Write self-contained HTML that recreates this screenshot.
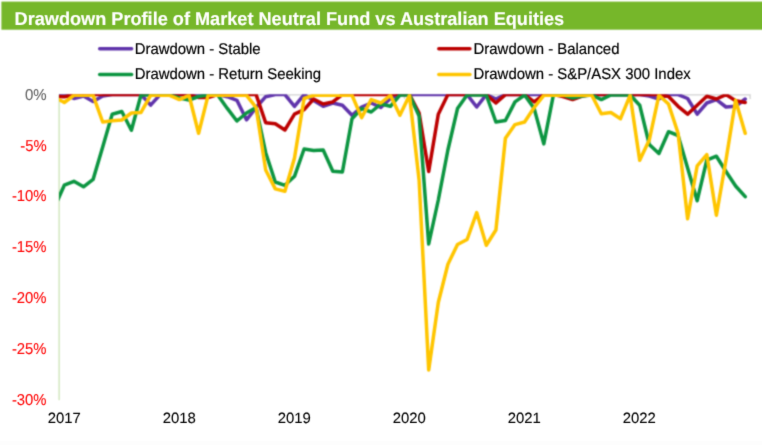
<!DOCTYPE html>
<html lang="en">
<head>
<meta charset="utf-8">
<title>Drawdown Profile of Market Neutral Fund vs Australian Equities</title>
<style>
html,body{margin:0;padding:0;background:#fff;}
body{width:762px;height:445px;overflow:hidden;position:relative;font-family:"Liberation Sans",Arial,sans-serif;}
svg{position:absolute;left:0;top:0;display:block;}
svg text{text-rendering:geometricPrecision;font-family:"Liberation Sans",Arial,sans-serif;stroke-width:0.2;paint-order:stroke;stroke-linejoin:round;}
.ln{fill:none;stroke-width:3.5;stroke-linejoin:round;stroke-linecap:round;}
</style>
</head>
<body>
<svg width="762" height="445" viewBox="0 0 762 445">
<defs>
<filter id="b" filterUnits="userSpaceOnUse" x="0" y="0" width="762" height="445" color-interpolation-filters="sRGB"><feConvolveMatrix order="3" kernelMatrix="1 3 1 3 9 3 1 3 1" divisor="25" edgeMode="duplicate" preserveAlpha="false"/></filter>
<filter id="bt" filterUnits="userSpaceOnUse" x="0" y="0" width="762" height="445" color-interpolation-filters="sRGB"><feConvolveMatrix order="3" kernelMatrix="1 8 1 8 64 8 1 8 1" divisor="100" edgeMode="duplicate" preserveAlpha="false"/></filter>
<clipPath id="cp"><rect x="59" y="94.2" width="700" height="320"/></clipPath>
</defs>
<rect x="0" y="0" width="762" height="445" fill="#ffffff"/>
<rect x="0" y="441" width="762" height="4" fill="#fdfdfd"/>
<g filter="url(#b)">
<rect x="1.4" y="1.6" width="762" height="28.1" fill="#76b72a"/>
<path d="M59 94.8H750.1M750.1 94.3V99M174.2 94.3V99M289.3 94.3V99M404.5 94.3V99M519.7 94.3V99M634.9 94.3V99" fill="none" stroke="#d2d2d2" stroke-width="1.3"/>
<line x1="59.1" y1="94.7" x2="59.1" y2="400.2" stroke="#bcdb9f" stroke-width="1"/>
<line x1="99.7" y1="48.85" x2="131.6" y2="48.85" stroke="#6034ab" stroke-width="3.5" stroke-linecap="round"/>
<line x1="99.7" y1="74.45" x2="131.6" y2="74.45" stroke="#0c9541" stroke-width="3.5" stroke-linecap="round"/>
<line x1="438.8" y1="48.85" x2="469.9" y2="48.85" stroke="#bc0000" stroke-width="3.5" stroke-linecap="round"/>
<line x1="438.8" y1="74.45" x2="469.9" y2="74.45" stroke="#ffc500" stroke-width="3.5" stroke-linecap="round"/>
<g clip-path="url(#cp)">
<polyline class="ln" stroke="#6034ab" points="56.0,94.6 64.3,94.6 73.9,98.5 83.5,96.0 93.1,101.5 102.7,96.0 112.2,94.6 121.8,94.6 131.4,94.6 141.0,94.6 150.6,105.2 160.2,94.6 169.8,94.6 179.4,94.6 189.0,94.6 198.6,94.6 208.1,94.6 217.7,94.6 227.3,96.7 236.9,100.3 246.5,119.8 256.1,107.5 265.7,96.7 275.3,94.6 284.9,94.6 294.5,106.3 304.1,94.6 313.6,100.5 323.2,106.3 332.8,103.0 342.4,105.2 352.0,115.3 361.6,107.0 371.2,103.0 380.8,107.5 390.4,98.5 399.9,94.6 409.5,94.6 419.1,94.6 428.7,94.6 438.3,94.6 447.9,94.6 457.5,94.6 467.1,94.6 476.7,107.0 486.3,94.6 495.9,99.0 505.4,94.6 515.0,94.6 524.6,94.6 534.2,94.6 543.8,94.6 553.4,94.6 563.0,94.6 572.6,94.6 582.2,94.6 591.8,94.6 601.3,94.6 610.9,94.6 620.5,94.6 630.1,94.6 639.7,94.6 649.3,96.0 658.9,99.0 668.5,94.6 678.1,94.6 687.6,98.5 697.2,114.2 706.8,103.0 716.4,99.6 726.0,107.0 735.6,106.3 745.2,99.0"/>
<polyline class="ln" stroke="#bc0000" points="56.0,96.5 64.3,96.8 73.9,94.6 83.5,94.6 93.1,94.6 102.7,94.6 112.2,94.6 121.8,94.6 131.4,94.6 141.0,94.6 150.6,94.6 160.2,94.6 169.8,94.6 179.4,94.6 189.0,94.6 198.6,97.5 208.1,97.5 217.7,94.6 227.3,94.6 236.9,94.6 246.5,94.6 256.1,94.6 265.7,122.8 275.3,123.7 284.9,130.0 294.5,114.2 304.1,109.7 313.6,99.0 323.2,104.0 332.8,101.9 342.4,94.6 352.0,94.6 361.6,94.6 371.2,94.6 380.8,94.6 390.4,94.6 399.9,94.6 409.5,94.6 419.1,113.0 428.7,171.5 438.3,114.2 447.9,94.6 457.5,94.6 467.1,94.6 476.7,94.6 486.3,94.6 495.9,103.0 505.4,94.6 515.0,94.6 524.6,94.6 534.2,101.9 543.8,94.6 553.4,94.6 563.0,96.5 572.6,99.6 582.2,96.0 591.8,94.6 601.3,94.6 610.9,94.6 620.5,94.6 630.1,94.6 639.7,94.6 649.3,94.6 658.9,94.6 668.5,96.5 678.1,106.3 687.6,114.2 697.2,105.2 706.8,96.2 716.4,99.0 726.0,94.6 735.6,100.7 745.2,102.5"/>
<polyline class="ln" stroke="#0c9541" points="56.0,204.0 64.3,185.2 73.9,181.3 83.5,186.8 93.1,179.4 102.7,146.9 112.2,114.2 121.8,111.5 131.4,130.2 141.0,95.0 150.6,95.0 160.2,95.0 169.8,95.0 179.4,98.0 189.0,100.0 198.6,96.5 208.1,95.0 217.7,95.0 227.3,108.4 236.9,121.0 246.5,113.0 256.1,107.5 265.7,152.7 275.3,182.0 284.9,185.3 294.5,176.3 304.1,149.0 313.6,150.5 323.2,150.0 332.8,171.3 342.4,172.0 352.0,118.7 361.6,108.6 371.2,112.0 380.8,104.0 390.4,106.3 399.9,95.0 409.5,95.0 419.1,116.0 428.7,244.0 438.3,200.0 447.9,150.0 457.5,108.6 467.1,95.0 476.7,95.0 486.3,95.0 495.9,122.0 505.4,120.5 515.0,101.9 524.6,95.0 534.2,108.6 543.8,143.9 553.4,95.0 563.0,95.0 572.6,98.0 582.2,96.0 591.8,95.0 601.3,99.6 610.9,95.0 620.5,95.0 630.1,95.0 639.7,105.2 649.3,144.5 658.9,153.5 668.5,131.7 678.1,135.5 687.6,168.0 697.2,200.7 706.8,160.2 716.4,156.2 726.0,171.5 735.6,186.0 745.2,196.6"/>
<polyline class="ln" stroke="#ffc500" points="56.0,98.0 64.3,102.5 73.9,95.3 83.5,95.3 93.1,95.3 102.7,122.0 112.2,120.7 121.8,120.0 131.4,113.0 141.0,112.4 150.6,95.3 160.2,95.3 169.8,95.3 179.4,99.6 189.0,95.3 198.6,133.3 208.1,95.3 217.7,95.3 227.3,95.3 236.9,95.3 246.5,95.3 256.1,107.5 265.7,170.0 275.3,188.9 284.9,191.2 294.5,158.0 304.1,98.5 313.6,95.3 323.2,95.3 332.8,95.3 342.4,95.3 352.0,95.3 361.6,117.6 371.2,99.6 380.8,103.0 390.4,95.3 399.9,115.3 409.5,95.3 419.1,180.0 428.7,370.0 438.3,302.5 447.9,264.3 457.5,244.5 467.1,239.5 476.7,212.6 486.3,245.2 495.9,230.0 505.4,138.3 515.0,124.6 524.6,122.0 534.2,107.5 543.8,95.3 553.4,95.3 563.0,95.3 572.6,95.3 582.2,95.3 591.8,95.3 601.3,113.8 610.9,112.6 620.5,118.7 630.1,95.3 639.7,160.3 649.3,140.0 658.9,95.3 668.5,104.0 678.1,133.3 687.6,218.7 697.2,165.8 706.8,154.6 716.4,215.3 726.0,160.0 735.6,100.3 745.2,133.3"/>
</g>
</g>
<g filter="url(#bt)">
<text x="14.6" y="24.7" fill="#ffffff" stroke="#ffffff" style="stroke-width:0.15" font-size="18.6" font-weight="bold" textLength="549.6" lengthAdjust="spacingAndGlyphs">Drawdown Profile of Market Neutral Fund vs Australian Equities</text>
<text x="46.6" y="99.8" text-anchor="end" fill="#686868" stroke="#686868" style="stroke-width:0.1" font-size="15.8" textLength="21.70" lengthAdjust="spacingAndGlyphs">0%</text>
<text x="46.6" y="150.6" text-anchor="end" fill="#ff0808" stroke="#ff0808" style="stroke-width:0.1" font-size="15.8" textLength="26.40" lengthAdjust="spacingAndGlyphs">-5%</text>
<text x="46.6" y="201.4" text-anchor="end" fill="#ff0808" stroke="#ff0808" style="stroke-width:0.1" font-size="15.8" textLength="34.70" lengthAdjust="spacingAndGlyphs">-10%</text>
<text x="46.6" y="252.2" text-anchor="end" fill="#ff0808" stroke="#ff0808" style="stroke-width:0.1" font-size="15.8" textLength="34.70" lengthAdjust="spacingAndGlyphs">-15%</text>
<text x="46.6" y="303.0" text-anchor="end" fill="#ff0808" stroke="#ff0808" style="stroke-width:0.1" font-size="15.8" textLength="34.70" lengthAdjust="spacingAndGlyphs">-20%</text>
<text x="46.6" y="353.8" text-anchor="end" fill="#ff0808" stroke="#ff0808" style="stroke-width:0.1" font-size="15.8" textLength="34.70" lengthAdjust="spacingAndGlyphs">-25%</text>
<text x="46.6" y="404.6" text-anchor="end" fill="#ff0808" stroke="#ff0808" style="stroke-width:0.1" font-size="15.8" textLength="34.70" lengthAdjust="spacingAndGlyphs">-30%</text>
<text x="64.3" y="423.0" text-anchor="middle" fill="#000" stroke="#000" style="stroke-width:0.1" font-size="14.9">2017</text>
<text x="179.3" y="423.0" text-anchor="middle" fill="#000" stroke="#000" style="stroke-width:0.1" font-size="14.9">2018</text>
<text x="294.3" y="423.0" text-anchor="middle" fill="#000" stroke="#000" style="stroke-width:0.1" font-size="14.9">2019</text>
<text x="409.3" y="423.0" text-anchor="middle" fill="#000" stroke="#000" style="stroke-width:0.1" font-size="14.9">2020</text>
<text x="524.3" y="423.0" text-anchor="middle" fill="#000" stroke="#000" style="stroke-width:0.1" font-size="14.9">2021</text>
<text x="639.3" y="423.0" text-anchor="middle" fill="#000" stroke="#000" style="stroke-width:0.1" font-size="14.9">2022</text>
<text x="134.7" y="53.8" fill="#000" stroke="#000" font-size="15.5" textLength="125.94" lengthAdjust="spacingAndGlyphs">Drawdown - Stable</text>
<text x="134.7" y="79.4" fill="#000" stroke="#000" font-size="15.5" textLength="186.42" lengthAdjust="spacingAndGlyphs">Drawdown - Return Seeking</text>
<text x="473.6" y="53.8" fill="#000" stroke="#000" font-size="15.5" textLength="145.83" lengthAdjust="spacingAndGlyphs">Drawdown - Balanced</text>
<text x="473.6" y="79.4" fill="#000" stroke="#000" font-size="15.5" textLength="217.09" lengthAdjust="spacingAndGlyphs">Drawdown - S&amp;P/ASX 300 Index</text>
</g>
</svg>
</body>
</html>
